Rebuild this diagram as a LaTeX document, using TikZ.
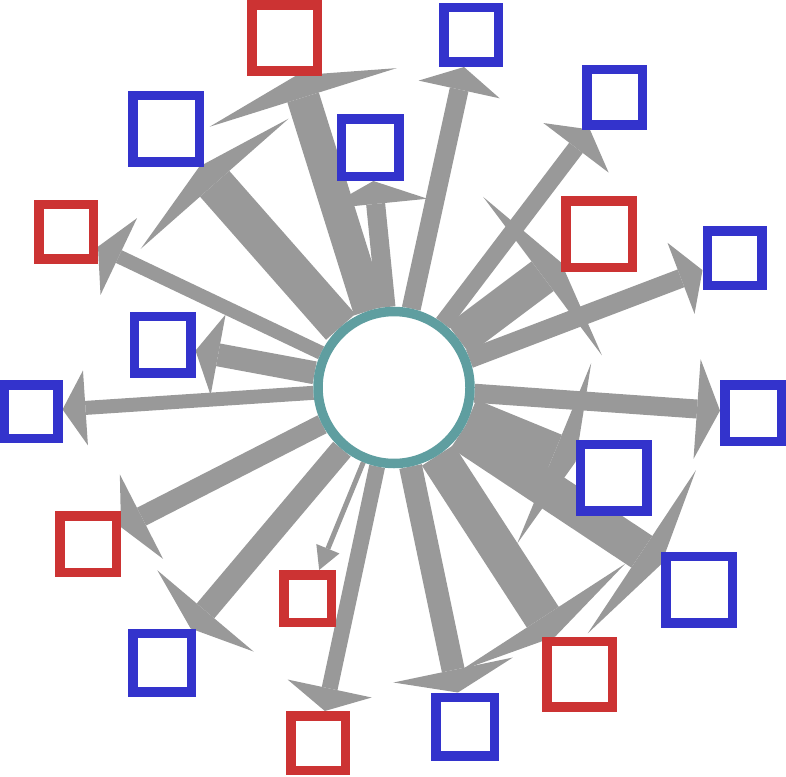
\documentclass[tikz,border=0pt]{standalone}
\usetikzlibrary{arrows.meta,backgrounds}
\definecolor{sqred}{HTML}{CC3333}
\definecolor{sqblue}{HTML}{3333CC}
\definecolor{hubteal}{HTML}{5F9EA0}
\definecolor{edgegrey}{HTML}{999999}
\tikzset{
  sq/.style={rectangle, line width=9.5pt, fill=white, inner sep=0pt, minimum size=#1},
  rsq/.style={sq=#1, draw=sqred},
  bsq/.style={sq=#1, draw=sqblue},
  hub/.style={circle, line width=9.5pt, draw=hubteal, fill=white, inner sep=0pt, minimum size=152pt},
  ed/.style 2 args={draw=edgegrey, line width=#1pt, -{Triangle[length=23pt,width=#2pt,line width=0pt]}}
}
\begin{document}
\begin{tikzpicture}[x=1pt,y=-1pt]
\useasboundingbox (0,0) rectangle (786,776);
\node[hub] (hub) at (394,387.5) {};
\node[rsq=65.5pt] (rtop) at (284.5,38) {};
\node[bsq=54.5pt] (btop) at (471,35) {};
\node[bsq=57.5pt] (bct) at (370,147.5) {};
\node[bsq=55.5pt] (btr) at (614.5,97) {};
\node[rsq=66.5pt] (rr) at (599,234) {};
\node[bsq=54.5pt] (br) at (734.5,258) {};
\node[rsq=54.5pt] (rl) at (66,231.5) {};
\node[bsq=56.5pt] (blm) at (162.5,344.5) {};
\node[bsq=53.5pt] (bfl) at (31,411.5) {};
\node[bsq=56.5pt] (bfr) at (753,413) {};
\node[bsq=66.5pt] (brl) at (613.5,477.5) {};
\node[bsq=66.5pt] (brlr) at (699,589.5) {};
\node[rsq=65.5pt] (rbr) at (579.5,674) {};
\node[bsq=58.5pt] (bb) at (465,726.5) {};
\node[rsq=54.5pt] (rb) at (318,743) {};
\node[bsq=58.5pt] (blb) at (162,662.5) {};
\node[rsq=56.5pt] (rll) at (88,544) {};
\node[rsq=47.5pt] (rs) at (307.5,598.5) {};
\node[bsq=66.5pt] (blt) at (166,128.5) {};
\begin{scope}[on background layer]
\draw[ed={14}{75}] (hub) -- (bfl);
\draw[ed={23}{82}] (hub) -- (blm);
\draw[ed={14}{85}] (hub) -- (rl);
\draw[ed={39}{197}] (hub) -- (blt);
\draw[ed={33}{196}] (hub) -- (rtop);
\draw[ed={19}{104}] (hub) -- (bct);
\draw[ed={19}{83}] (hub) -- (btop);
\draw[ed={17}{82}] (hub) -- (btr);
\draw[ed={37}{198}] (hub) -- (rr);
\draw[ed={19}{76}] (hub) -- (br);
\draw[ed={19}{100}] (hub) -- (bfr);
\draw[ed={40}{195}] (hub) -- (brl);
\draw[ed={38}{196}] (hub) -- (brlr);
\draw[ed={38}{196}] (hub) -- (rbr);
\draw[ed={16}{86}] (hub) -- (rb);
\draw[ed={5}{25}] (hub) -- (rs);
\draw[ed={23}{126}] (hub) -- (blb);
\draw[ed={20}{95}] (hub) -- (rll);
\draw[ed={23}{122}] (hub) -- (bb);
\end{scope}
\end{tikzpicture}
\end{document}
